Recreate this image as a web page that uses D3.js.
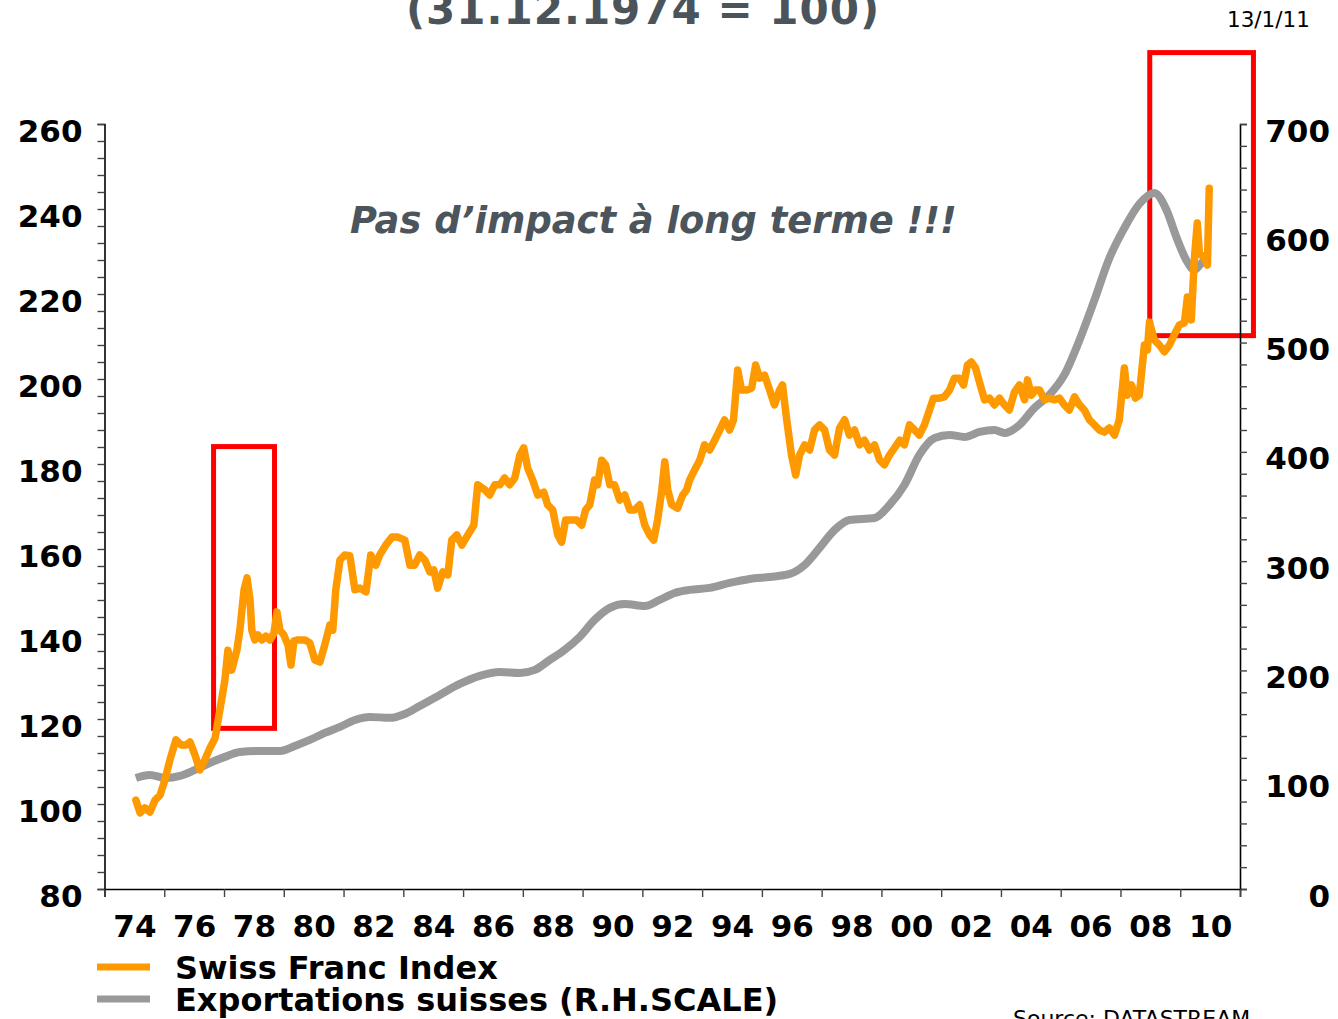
<!DOCTYPE html>
<html>
<head>
<meta charset="utf-8">
<script src="https://cdn.jsdelivr.net/npm/d3@7"></script>
<style>
  body { margin: 0; background: #fff; }
  svg { display: block; font-family: "DejaVu Sans", Verdana, sans-serif; }
</style>
</head>
<body>
<svg width="1338" height="1019"></svg>
<script>
// Swiss Franc Index (left scale)
var chfYears = [1975.05,1975.19,1975.35,1975.52,1975.69,1975.86,1976.02,1976.19,1976.39,1976.56,1976.73,1976.86,1977.03,1977.19,1977.36,1977.53,1977.70,1977.86,1978.03,1978.13,1978.26,1978.43,1978.53,1978.67,1978.77,1978.87,1978.93,1979.03,1979.13,1979.27,1979.40,1979.54,1979.67,1979.77,1979.87,1980.00,1980.14,1980.24,1980.34,1980.47,1980.71,1980.87,1981.04,1981.21,1981.37,1981.54,1981.64,1981.74,1981.88,1982.04,1982.21,1982.38,1982.55,1982.75,1982.91,1983.08,1983.21,1983.41,1983.62,1983.82,1984.05,1984.22,1984.38,1984.55,1984.72,1984.89,1985.02,1985.15,1985.32,1985.49,1985.62,1985.79,1985.96,1986.16,1986.36,1986.49,1986.73,1986.89,1987.06,1987.23,1987.39,1987.56,1987.73,1987.90,1988.03,1988.16,1988.33,1988.50,1988.70,1988.83,1989.00,1989.17,1989.30,1989.43,1989.64,1989.80,1989.97,1990.10,1990.24,1990.40,1990.50,1990.64,1990.77,1990.91,1991.07,1991.24,1991.41,1991.58,1991.74,1991.91,1992.08,1992.24,1992.38,1992.51,1992.65,1992.75,1992.85,1992.98,1993.18,1993.35,1993.48,1993.58,1993.75,1993.92,1994.08,1994.25,1994.42,1994.59,1994.75,1994.92,1995.05,1995.19,1995.32,1995.49,1995.66,1995.79,1995.92,1996.09,1996.26,1996.42,1996.59,1996.69,1996.83,1996.99,1997.13,1997.26,1997.43,1997.60,1997.76,1997.93,1998.10,1998.26,1998.43,1998.60,1998.77,1998.93,1999.10,1999.27,1999.43,1999.60,1999.77,1999.94,2000.10,2000.27,2000.44,2000.61,2000.77,2000.94,2001.11,2001.27,2001.44,2001.61,2001.74,2001.94,2002.11,2002.28,2002.44,2002.61,2002.75,2002.88,2003.01,2003.15,2003.28,2003.45,2003.62,2003.78,2003.95,2004.12,2004.28,2004.45,2004.62,2004.79,2004.89,2005.02,2005.15,2005.29,2005.46,2005.62,2005.79,2005.96,2006.12,2006.29,2006.46,2006.63,2006.79,2006.96,2007.13,2007.29,2007.46,2007.63,2007.80,2007.96,2008.13,2008.23,2008.37,2008.50,2008.63,2008.80,2008.90,2008.97,2009.13,2009.30,2009.47,2009.64,2009.80,2009.97,2010.14,2010.24,2010.37,2010.47,2010.57,2010.64,2010.81,2010.91,2010.97];
var chfValues = [100.9,97.9,99.1,98.1,100.9,102.1,105.6,110.4,115.1,113.9,113.9,114.6,111.5,108,110.4,113.2,115.5,122.1,129.2,136.2,131.5,136.2,140.9,150.4,153.2,148,140.9,138.6,139.8,138.6,139.5,138.6,140.2,145.2,140.9,139.8,137.4,132.7,138.4,138.6,138.6,137.9,133.9,133.4,137.4,142.1,140.9,150.4,157.4,158.6,158.4,150.4,150.8,149.9,158.6,156.2,158.6,160.9,162.8,162.8,162.1,156.2,156.2,158.6,157.4,154.6,155.1,150.8,154.6,153.9,162.1,163.3,160.9,163.3,165.6,175.1,173.9,172.7,175.1,175.1,176.7,175.1,176.7,182.1,183.8,179.1,176.2,172.7,173.4,170.4,169.2,163.3,161.6,166.8,166.8,166.8,165.6,169.2,170.4,176.2,175.1,180.9,179.8,175.1,175.1,171.5,172.7,169.2,169.2,170.4,165.6,163.3,162.1,166.8,173.9,180.5,173.9,170.4,169.6,172.7,173.9,176.2,178.6,180.9,184.5,183.3,185.6,188,190.4,188,190.4,202.1,197.4,197.4,197.9,203.3,200.2,200.9,197.4,193.9,197.4,198.6,190.4,182.1,177.4,182.1,184.5,183.3,188,189.2,188,183.3,182.1,188.5,190.4,186.8,188,184.5,185.6,183.3,184.5,180.9,179.8,182.1,183.8,185.6,184.5,189.2,188,186.8,189.2,192.7,195.5,195.5,195.8,197.4,200.2,200.2,198.6,203.3,204,202.6,199.3,195.1,195.5,193.9,195.5,193.9,192.7,196.9,198.6,195.1,199.8,196.2,197.4,197.4,195.1,195.5,195.1,195.5,193.9,192.7,195.8,193.9,192.7,190.4,189.2,188,187.5,188.5,186.8,190.4,202.6,196.2,198.6,195.5,196.2,208,206.8,213.4,209.2,208,206.4,208,210.4,212.7,213.2,219.3,213.9,228,236.7,229.6,228.5,226.8,244.9];

// Exportations suisses (right scale)
var expYears = [1975.05,1975.52,1976.02,1976.53,1977.03,1977.53,1978.03,1978.53,1979.20,1979.87,1980.37,1980.87,1981.37,1981.88,1982.38,1982.88,1983.55,1984.05,1984.55,1985.22,1985.89,1986.56,1987.23,1987.90,1988.40,1988.90,1989.40,1989.90,1990.40,1990.91,1991.41,1992.08,1992.58,1993.08,1993.58,1994.25,1994.92,1995.59,1996.26,1996.93,1997.43,1997.93,1998.43,1998.93,1999.77,2000.27,2000.77,2001.27,2001.78,2002.28,2002.78,2003.28,2003.78,2004.12,2004.62,2005.12,2005.62,2006.12,2006.63,2007.13,2007.63,2008.13,2008.63,2009.13,2009.54,2009.87,2010.20,2010.47,2010.71,2010.91];
var expValues = [101.6,104.4,101.6,103.5,109,115.4,120.9,125.4,126.3,126.3,130.9,136.4,142.8,148.3,154.7,157.5,156.6,160.2,167.5,177.6,187.6,195,198.6,197.7,200.5,209.6,218.8,230.6,246.2,257.2,260.8,259,264.5,270.9,273.7,275.5,280.1,283.7,285.5,288.3,296.5,312.1,328.5,337.7,339.5,351.4,369.7,397.2,412.7,415.5,413.6,418.2,420,417.3,424.6,440.2,452.1,470.4,502.4,539,577.4,604.8,626.8,636.9,621.3,596.6,575.6,566.4,572.8,578.3];

// highlighted periods: [fromYear, toYear, lowValue, highValue] on left scale
var boxes = [[1977.65, 1979.69, 117.8, 184.1], [2008.98, 2012.45, 210.2, 276.8]];

var leftTicks = d3.range(80, 261, 4);
var rightTicks = d3.range(0, 701, 20);
var yearTicks = d3.range(1974, 2013, 2);
var yearLabels = d3.range(1975, 2012, 2);

var svg = d3.select("svg");

var x = d3.scaleLinear().domain([1974, 2012]).range([104.5, 1240]);
var yL = d3.scaleLinear().domain([80, 260]).range([889, 124]);
var yR = d3.scaleLinear().domain([0, 700]).range([889, 124]);

// red boxes under the lines
svg.selectAll(".box")
    .data(boxes)
    .enter().append("rect")
    .attr("x", function(d) { return x(d[0]); })
    .attr("y", function(d) { return yL(d[3]); })
    .attr("width", function(d) { return x(d[1]) - x(d[0]); })
    .attr("height", function(d) { return yL(d[2]) - yL(d[3]); })
    .style("fill", "none")
    .style("stroke", "#ff0000")
    .style("stroke-width", "5px");

// axes
var leftAxis = svg.append("g")
    .attr("transform", "translate(104.5,0)")
    .call(d3.axisLeft(yL).tickValues(leftTicks).tickSize(7).tickPadding(15)
        .tickFormat(function(d) { return d % 20 === 0 ? d : ""; }));

var rightAxis = svg.append("g")
    .attr("transform", "translate(1240,0)")
    .call(d3.axisRight(yR).tickValues(rightTicks).tickSize(7)
        .tickFormat(function(d) { return d % 100 === 0 ? d : ""; }));

var bottomAxis = svg.append("g")
    .attr("transform", "translate(0,889)")
    .call(d3.axisBottom(x).tickValues(yearTicks).tickSize(8).tickFormat(""));

var labelAxis = svg.append("g")
    .attr("transform", "translate(0,889)")
    .call(d3.axisBottom(x).tickValues(yearLabels).tickSize(0).tickPadding(26)
        .tickFormat(function(d) { return d3.format("02")((d - 1) % 100); }));
labelAxis.select(".domain").remove();

svg.selectAll(".domain").style("stroke", "#000").style("stroke-width", "1.6px");
svg.selectAll(".tick line").style("stroke", "#444").style("stroke-width", "1.4px");
svg.selectAll(".tick text")
    .style("font-family", "DejaVu Sans, sans-serif")
    .style("font-size", "31px")
    .style("font-weight", "bold")
    .style("fill", "#000");
leftAxis.selectAll(".tick text").attr("dy", "0.55em");
rightAxis.selectAll(".tick text").attr("x", 90).attr("dy", "0.55em").attr("text-anchor", "end");

// lines
var expLine = d3.line()
    .x(function(d, i) { return x(expYears[i]); })
    .y(function(d) { return yR(d); })
    .curve(d3.curveMonotoneX);

var chfLine = d3.line()
    .x(function(d, i) { return x(chfYears[i]); })
    .y(function(d) { return yL(d); });

svg.append("path")
    .attr("d", expLine(expValues))
    .style("fill", "none")
    .style("stroke", "#999999")
    .style("stroke-width", "8px")
    .style("stroke-linejoin", "round");

svg.append("path")
    .attr("d", chfLine(chfValues))
    .style("fill", "none")
    .style("stroke", "#ff9900")
    .style("stroke-width", "7.5px")
    .style("stroke-linejoin", "round")
    .style("stroke-linecap", "round");

// texts
svg.append("text")
    .attr("x", 643).attr("y", 24)
    .attr("text-anchor", "middle")
    .style("font-size", "42px").style("font-weight", "bold")
    .style("letter-spacing", "1px")
    .style("fill", "#4b545a")
    .text("(31.12.1974 = 100)");

svg.append("text")
    .attr("x", 1227).attr("y", 27)
    .style("font-size", "21.5px")
    .style("fill", "#000")
    .text("13/1/11");

svg.append("text")
    .attr("x", 350).attr("y", 233)
    .style("font-size", "36.8px").style("font-weight", "bold").style("font-style", "italic")
    .style("fill", "#4b555b")
    .text("Pas d\u2019impact \u00e0 long terme !!!");

svg.append("text")
    .attr("x", 1013).attr("y", 1026)
    .style("font-size", "22px")
    .style("fill", "#000")
    .text("Source:  DATASTREAM");

// legend
var legend = [["Swiss Franc Index", "#ff9900", 967], ["Exportations suisses (R.H.SCALE)", "#999999", 999]];
var lg = svg.selectAll(".legend")
    .data(legend)
    .enter().append("g");
lg.append("line")
    .attr("x1", 97).attr("x2", 150)
    .attr("y1", function(d) { return d[2]; })
    .attr("y2", function(d) { return d[2]; })
    .style("stroke", function(d) { return d[1]; })
    .style("stroke-width", "7px");
lg.append("text")
    .attr("x", 175)
    .attr("y", function(d) { return d[2] + 12; })
    .style("font-size", "32px").style("font-weight", "bold")
    .style("fill", "#000")
    .text(function(d) { return d[0]; });
</script>
</body>
</html>
